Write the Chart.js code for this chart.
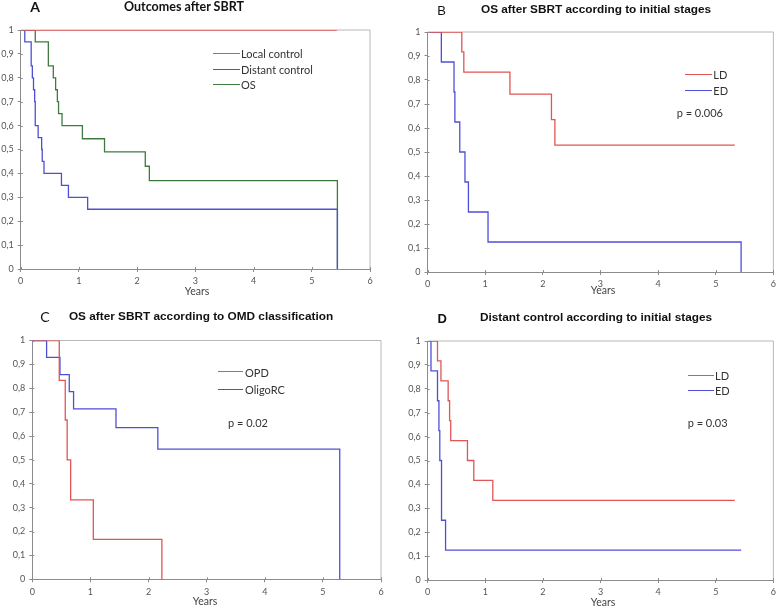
<!DOCTYPE html>
<html><head><meta charset="utf-8">
<script src="https://cdn.jsdelivr.net/npm/chart.js@4.4.1/dist/chart.umd.min.js"></script>
<style>
html,body{margin:0;padding:0;background:#fff;}
body{width:780px;height:606px;position:relative;overflow:hidden;font-family:Lato,'Open Sans',sans-serif;}
canvas{position:absolute;}
.t{position:absolute;white-space:nowrap;line-height:1;}
.c{transform:translate(-50%,-50%);}
.l{transform:translateY(-50%);}
.ttl{font-family:'Liberation Sans',Arial,sans-serif;font-weight:bold;font-size:11.8px;color:#111;}
.lg{font-size:11px;color:#333;}
.yr{font-size:10.5px;color:#444;}
.sw{position:absolute;height:1px;}
</style></head><body>
<canvas id="cA" width="390" height="303" style="left:0;top:0"></canvas>
<canvas id="cB" width="390" height="303" style="left:390px;top:0"></canvas>
<canvas id="cC" width="390" height="303" style="left:0;top:303px"></canvas>
<canvas id="cD" width="390" height="303" style="left:390px;top:303px"></canvas>

<div class="t c" style="left:35px;top:6.5px;font-weight:bold;font-size:14px;color:#111">A</div>
<div class="t c" style="left:184px;top:6.5px;font-weight:bold;font-size:12.5px;color:#111">Outcomes after SBRT</div>
<div class="t c ttl" style="left:441.7px;top:9.5px;font-size:13px;font-weight:normal">B</div>
<div class="t c ttl" style="left:596px;top:9.5px">OS after SBRT according to initial stages</div>
<div class="t c" style="left:45px;top:317px;font-size:14px;color:#111">C</div>
<div class="t c ttl" style="left:201px;top:317px">OS after SBRT according to OMD classification</div>
<div class="t c ttl" style="left:442.3px;top:318.3px;font-size:13px">D</div>
<div class="t c ttl" style="left:596px;top:318px">Distant control according to initial stages</div>

<div class="sw" style="left:213px;width:27px;top:53px;background:#e05555"></div>
<div class="t l lg" style="left:241px;top:53.3px">Local control</div>
<div class="sw" style="left:213px;width:27px;top:69px;background:#4f4fd6"></div>
<div class="t l lg" style="left:241px;top:69.3px">Distant control</div>
<div class="sw" style="left:213px;width:27px;top:84px;background:#3f7a3f"></div>
<div class="t l lg" style="left:241px;top:84.3px">OS</div>

<div class="sw" style="left:685px;width:27px;top:74px;background:#e05555"></div>
<div class="t l lg" style="left:713.3px;top:74px">LD</div>
<div class="sw" style="left:685px;width:27px;top:90px;background:#4f4fd6"></div>
<div class="t l lg" style="left:713.3px;top:90px">ED</div>
<div class="t l lg" style="left:676.7px;top:111.7px">p = 0.006</div>

<div class="sw" style="left:218px;width:25px;top:371px;background:#e05555"></div>
<div class="t l lg" style="left:245px;top:371.7px">OPD</div>
<div class="sw" style="left:218px;width:25px;top:389px;background:#4f4fd6"></div>
<div class="t l lg" style="left:245px;top:389.3px">OligoRC</div>
<div class="t l lg" style="left:228px;top:421.7px">p = 0.02</div>

<div class="sw" style="left:688px;width:26px;top:375px;background:#e05555"></div>
<div class="t l lg" style="left:715px;top:375px">LD</div>
<div class="sw" style="left:688px;width:26px;top:390px;background:#4f4fd6"></div>
<div class="t l lg" style="left:715px;top:390px">ED</div>
<div class="t l lg" style="left:687.7px;top:421.7px">p = 0.03</div>

<div class="t c yr" style="left:197px;top:291px">Years</div>
<div class="t c yr" style="left:603px;top:290px">Years</div>
<div class="t c yr" style="left:205px;top:601px">Years</div>
<div class="t c yr" style="left:603px;top:601.5px">Years</div>

<script>
// ---- shared axis ticks ----
const xTickValues = [0, 1, 2, 3, 4, 5, 6];
const yTickValues = [0, 0.1, 0.2, 0.3, 0.4, 0.5, 0.6, 0.7, 0.8, 0.9, 1];
const yTickLabels = ['0', '0,1', '0,2', '0,3', '0,4', '0,5', '0,6', '0,7', '0,8', '0,9', '1'];

// ---- Panel A: Outcomes after SBRT ----
const aLocalTime   = [0, 5.43];
const aLocalSurv   = [1, 1];
const aDistantTime = [0, 0.07, 0.18, 0.20, 0.22, 0.24, 0.25, 0.30, 0.36, 0.37, 0.40, 0.70, 0.82, 1.15, 5.44];
const aDistantSurv = [1, 0.95, 0.85, 0.80, 0.75, 0.70, 0.60, 0.55, 0.50, 0.45, 0.40, 0.35, 0.30, 0.25, 0];
const aOSTime      = [0, 0.25, 0.475, 0.56, 0.60, 0.63, 0.65, 0.71, 1.06, 1.44, 2.14, 2.21, 5.44];
const aOSSurv      = [1, 0.95, 0.85, 0.80, 0.75, 0.70, 0.65, 0.60, 0.545, 0.49, 0.43, 0.37, 0];

// ---- Panel B: OS by initial stage ----
const bLDTime = [0, 0.595, 0.63, 1.43, 2.15, 2.21, 5.33];
const bLDSurv = [1, 0.917, 0.833, 0.741, 0.635, 0.529, 0.529];
const bEDTime = [0, 0.24, 0.46, 0.475, 0.56, 0.65, 0.71, 1.05, 5.44];
const bEDSurv = [1, 0.875, 0.75, 0.625, 0.5, 0.375, 0.25, 0.125, 0];

// ---- Panel C: OS by OMD classification ----
const cOPDTime = [0, 0.464, 0.567, 0.60, 0.66, 1.05, 2.23];
const cOPDSurv = [1, 0.833, 0.667, 0.5, 0.333, 0.167, 0];
const cRCTime  = [0, 0.246, 0.476, 0.636, 0.71, 1.44, 2.16, 5.29];
const cRCSurv  = [1, 0.929, 0.857, 0.786, 0.714, 0.635, 0.545, 0];

// ---- Panel D: Distant control by initial stage ----
const dLDTime = [0, 0.17, 0.23, 0.355, 0.38, 0.40, 0.69, 0.80, 1.13, 5.33];
const dLDSurv = [1, 0.917, 0.833, 0.75, 0.667, 0.583, 0.5, 0.417, 0.333, 0.333];
const dEDTime = [0, 0.057, 0.17, 0.195, 0.21, 0.24, 0.31, 5.44];
const dEDSurv = [1, 0.875, 0.75, 0.625, 0.5, 0.25, 0.125, 0.125];

const RED = '#e05555', BLUE = '#4f4fd6', GREEN = '#3f7a3f';
const AXIS = '#8c8c8c', FRAME = '#b8b8b8';

function pts(t, s) { return t.map((v, i) => ({x: v, y: s[i]})); }
function ds(t, s, color) {
  return {data: pts(t, s), borderColor: color, borderWidth: 1.3, pointRadius: 0,
          stepped: true, tension: 0, fill: false};
}

const framePlugin = {
  id: 'frame',
  beforeDatasetsDraw(chart) {
    const {ctx, chartArea: a} = chart;
    ctx.save();
    ctx.strokeStyle = FRAME; ctx.lineWidth = 1;
    ctx.beginPath();
    ctx.moveTo(a.left, a.top);
    ctx.lineTo(a.right, a.top);
    ctx.lineTo(a.right, a.bottom);
    ctx.stroke();
    ctx.restore();
  },
  afterDraw(chart) {
    const {ctx, chartArea: a, scales} = chart;
    ctx.save();
    ctx.strokeStyle = AXIS; ctx.lineWidth = 1;
    ctx.beginPath();
    xTickValues.forEach(v => {
      const p = Math.round(scales.x.getPixelForValue(v)) + 0.5;
      ctx.moveTo(p, a.bottom); ctx.lineTo(p, a.bottom - 2);
    });
    yTickValues.forEach(v => {
      const p = Math.round(scales.y.getPixelForValue(v)) + 0.5;
      ctx.moveTo(a.left, p); ctx.lineTo(a.left + 2, p);
    });
    ctx.stroke();
    ctx.restore();
  }
};

function makeChart(id, datasets, yW, pad) {
  new Chart(document.getElementById(id), {
    type: 'line',
    data: {datasets},
    plugins: [framePlugin],
    options: {
      responsive: false, animation: false, devicePixelRatio: 1,
      layout: {autoPadding: false, padding: pad},
      plugins: {legend: {display: false}, tooltip: {enabled: false}, title: {display: false}},
      scales: {
        x: {
          type: 'linear', min: 0, max: 6,
          afterBuildTicks: s => { s.ticks = xTickValues.map(v => ({value: v})); },
          afterFit: s => { s.height = 20; },
          ticks: {color: '#555', font: {family: 'Lato', size: 9}, padding: 4, maxRotation: 0,
                  autoSkip: false, callback: v => String(v)},
          grid: {drawOnChartArea: false, tickLength: 3, color: AXIS},
          border: {color: AXIS}
        },
        y: {
          type: 'linear', min: 0, max: 1,
          afterBuildTicks: s => { s.ticks = yTickValues.map(v => ({value: v})); },
          afterFit: s => { s.width = yW; },
          ticks: {color: '#555', font: {family: 'Lato', size: 9}, padding: 4,
                  autoSkip: false, callback: (v, i) => yTickLabels[i]},
          grid: {drawOnChartArea: false, tickLength: 3, color: AXIS},
          border: {color: AXIS}
        }
      }
    }
  });
}

makeChart('cA', [ds(aLocalTime, aLocalSurv, RED), ds(aDistantTime, aDistantSurv, BLUE), ds(aOSTime, aOSSurv, GREEN)],
  20.7, {left: 0, top: 30, right: 20, bottom: 14});
makeChart('cB', [ds(bLDTime, bLDSurv, RED), ds(bEDTime, bEDSurv, BLUE)],
  37.5, {left: 0, top: 32, right: 3.3, bottom: 11});
makeChart('cC', [ds(cOPDTime, cOPDSurv, RED), ds(cRCTime, cRCSurv, BLUE)],
  32.3, {left: 0, top: 37.5, right: 9, bottom: 6.7});
makeChart('cD', [ds(dLDTime, dLDSurv, RED), ds(dEDTime, dEDSurv, BLUE)],
  37.7, {left: 0, top: 38, right: 3, bottom: 6});
</script>
</body></html>
